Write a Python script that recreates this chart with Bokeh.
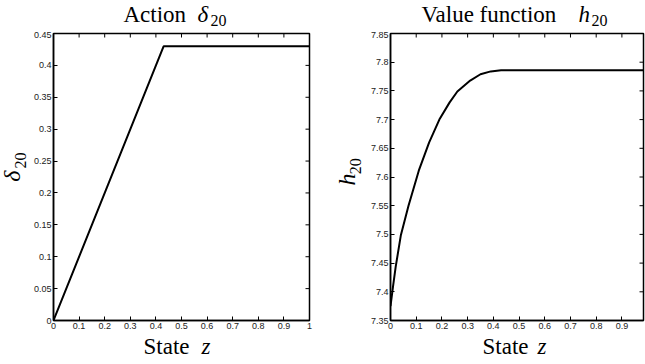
import math
from bokeh.plotting import figure
from bokeh.layouts import row, column
from bokeh.models import FixedTicker, Range1d, Label
from bokeh.embed import file_html
from bokeh.resources import INLINE

# ---- data ----
z_action = [0, 0.43, 1.0]
delta_20 = [0, 0.43, 0.43]

z_value = [0, 0.01, 0.02, 0.04, 0.07, 0.11, 0.15, 0.19, 0.23, 0.26, 0.31, 0.35, 0.39, 0.43, 1.0]
h_20 = [7.375, 7.41, 7.443, 7.498, 7.55, 7.611, 7.66, 7.70, 7.73, 7.749, 7.768, 7.779, 7.784, 7.786, 7.786]

x_ticks = [0, 0.1, 0.2, 0.3, 0.4, 0.5, 0.6, 0.7, 0.8, 0.9, 1]
x_tick_labels = ["0", "0.1", "0.2", "0.3", "0.4", "0.5", "0.6", "0.7", "0.8", "0.9", "1"]
y1_ticks = [0, 0.05, 0.1, 0.15, 0.2, 0.25, 0.3, 0.35, 0.4, 0.45]
y1_tick_labels = ["0", "0.05", "0.1", "0.15", "0.2", "0.25", "0.3", "0.35", "0.4", "0.45"]
y2_ticks = [7.35, 7.4, 7.45, 7.5, 7.55, 7.6, 7.65, 7.7, 7.75, 7.8, 7.85]
y2_tick_labels = ["7.35", "7.4", "7.45", "7.5", "7.55", "7.6", "7.65", "7.7", "7.75", "7.8", "7.85"]

x1_range = [0, 1]
y1_range = [0, 0.45]
x2_range = [0, 0.984]
y2_range = [7.35, 7.85]

# title / label pieces: (main word, italic symbol, subscript)
title1 = ["Action", "δ", "20"]
title2 = ["Value function", "h", "20"]
ylab1 = ["δ", "20"]
ylab2 = ["h", "20"]
xlab = ["State", "z"]

SERIF = "Liberation Serif"
SANS = "Liberation Sans"
FRAME_H = 287


def text_fig(w, h):
    f = figure(width=w, height=h, x_range=Range1d(0, w), y_range=Range1d(0, h),
               x_axis_location=None, y_axis_location=None, toolbar_location=None,
               output_backend="svg", min_border=0, outline_line_color=None)
    f.grid.visible = False
    return f


def lab(p, text, x, y, size, italic=False, angle=0.0):
    # (x, y) is the baseline start; labels are drawn middle-anchored, so shift
    s = 0.34 * size
    if angle:
        x = x - s
    else:
        y = y + s
    p.add_layout(Label(x=x, y=y, text=text,
                       text_font=SERIF, text_font_size=f"{size}px",
                       text_font_style="italic" if italic else "normal",
                       text_color="black", text_align="left",
                       text_baseline="middle", angle=angle))


def main_fig(fw, xr, yr, xt, xl, yt, yl, left, right):
    p = figure(frame_width=fw, frame_height=FRAME_H, x_range=Range1d(*xr), y_range=Range1d(*yr),
               toolbar_location=None, output_backend="svg",
               min_border_left=left, min_border_right=right, min_border_top=2, min_border_bottom=13)
    p.grid.visible = False
    p.outline_line_color = "black"
    p.outline_line_width = 1.5
    p.xaxis.ticker = FixedTicker(ticks=xt)
    p.xaxis.major_label_overrides = dict(zip(xt, xl))
    p.yaxis.ticker = FixedTicker(ticks=yt)
    p.yaxis.major_label_overrides = dict(zip(yt, yl))
    for ax in list(p.xaxis) + list(p.yaxis):
        ax.major_label_text_font = SANS
        ax.major_label_text_font_size = "9px"
        ax.major_label_text_color = "#222222"
        ax.major_label_standoff = 2
        ax.major_tick_in = 4
        ax.major_tick_out = 0
        ax.minor_tick_in = 0
        ax.minor_tick_out = 0
        ax.axis_line_color = "black"
        ax.axis_line_width = 1.5
        ax.major_tick_line_color = "black"
    # mirrored inward ticks on top and right edges
    txt = [t for t in xt if xr[0] <= t <= xr[1]]
    tyt = [t for t in yt if yr[0] <= t <= yr[1]]
    p.ray(x=txt, y=[yr[1]] * len(txt), length=4, length_units="screen",
          angle=-math.pi / 2, line_color="black", line_width=1)
    p.ray(x=[xr[1]] * len(tyt), y=tyt, length=4, length_units="screen",
          angle=math.pi, line_color="black", line_width=1)
    return p


# ---------- left panel ----------
p1 = main_fig(256, x1_range, y1_range, x_ticks, x_tick_labels, y1_ticks, y1_tick_labels, 23, 21)
p1.line(z_action, delta_20, line_color="black", line_width=2)

t1 = text_fig(330, 31)
lab(t1, title1[0], 123, 9, 23)
lab(t1, title1[1], 197, 9, 23, italic=True)
lab(t1, title1[2], 210, 6, 16)

yl1 = text_fig(30, FRAME_H + 15)
lab(yl1, ylab1[0], 20, 146, 24, italic=True, angle=math.pi / 2)
lab(yl1, ylab1[1], 25, 160, 16, angle=math.pi / 2)

xl1 = text_fig(330, 31)
lab(xl1, xlab[0], 143, 10, 23)
lab(xl1, xlab[1], 201, 10, 23, italic=True)

panel1 = column(t1, row(yl1, p1, spacing=0), xl1, spacing=0)

# ---------- right panel ----------
p2 = main_fig(253, x2_range, y2_range, x_ticks, x_tick_labels, y2_ticks, y2_tick_labels, 23, 2)
p2.line(z_value, h_20, line_color="black", line_width=2)

t2 = text_fig(315, 31)
lab(t2, title2[0], 91, 9, 23)
lab(t2, title2[1], 248, 9, 23, italic=True)
lab(t2, title2[2], 261, 6, 16)

yl2 = text_fig(37, FRAME_H + 15)
lab(yl2, ylab2[0], 25, 142, 24, italic=True, angle=math.pi / 2)
lab(yl2, ylab2[1], 30, 154, 16, angle=math.pi / 2)

xl2 = text_fig(315, 31)
lab(xl2, xlab[0], 152, 10, 23)
lab(xl2, xlab[1], 207, 10, 23, italic=True)

panel2 = column(t2, row(yl2, p2, spacing=0), xl2, spacing=0)

layout = row(panel1, panel2, spacing=0)
open("out.html", "w").write(file_html(layout, INLINE))
